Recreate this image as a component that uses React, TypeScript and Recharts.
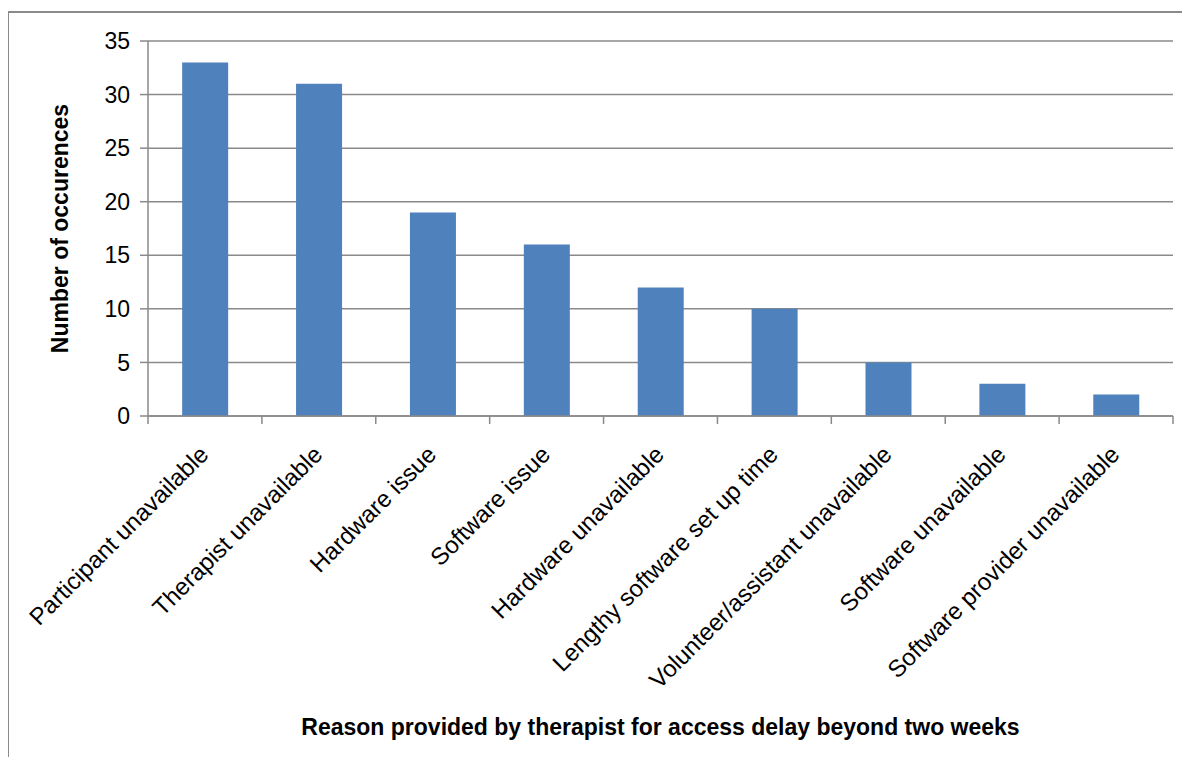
import React from "react";
import {
  BarChart,
  Bar,
  XAxis,
  YAxis,
  CartesianGrid,
  Label,
} from "recharts";

// Reasons reported for access delays beyond two weeks
const reasons: string[] = [
  "Participant unavailable",
  "Therapist unavailable",
  "Hardware issue",
  "Software issue",
  "Hardware unavailable",
  "Lengthy software set up time",
  "Volunteer/assistant unavailable",
  "Software unavailable",
  "Software provider unavailable",
];

// Number of occurrences for each reason
const occurrences: number[] = [33, 31, 19, 16, 12, 10, 5, 3, 2];

// Value axis ticks
const yTicks: number[] = [0, 5, 10, 15, 20, 25, 30, 35];

const data = reasons.map((reason, i) => ({ reason, count: occurrences[i] }));

const FONT = "'Liberation Sans', Arial, sans-serif";
const GRID = "#8a8a8a";
const BAR = "#4F81BD";

// Category label rotated 45° plus tick marks on the band edges
const CategoryTick = (props: any) => {
  const { x, y, payload, index, visibleTicksCount } = props;
  const half = payload && typeof payload.offset === "number" ? payload.offset : 0;
  const ax = x + 5;
  const ay = y + 40;
  const isLast = index === visibleTicksCount - 1;
  return (
    <g>
      <line x1={x - half} x2={x - half} y1={y} y2={y + 8} stroke={GRID} strokeWidth={1.5} />
      {isLast && (
        <line x1={x + half} x2={x + half} y1={y} y2={y + 8} stroke={GRID} strokeWidth={1.5} />
      )}
      <text
        x={ax}
        y={ay}
        transform={`rotate(-45, ${ax}, ${ay})`}
        textAnchor="end"
        fontFamily={FONT}
        fontSize={24}
        fill="#000"
      >
        {payload.value}
      </text>
    </g>
  );
};

export default function App() {
  return (
    <div
      style={{
        position: "relative",
        width: 1182,
        height: 757,
        marginBottom: -8,
        overflow: "hidden",
        background: "#fff",
      }}
    >
      <div
        style={{
          position: "absolute",
          left: -1,
          top: 3,
          right: 0,
          bottom: 0,
          borderLeft: `2px solid ${GRID}`,
          borderTop: `2px solid ${GRID}`,
        }}
      />
      <div style={{ position: "absolute", left: 0, top: 0 }}>
        <BarChart
          width={1182}
          height={757}
          data={data}
          margin={{ top: 33, right: 17, left: 0, bottom: 0 }}
          barCategoryGap="30%"
        >
          <CartesianGrid vertical={false} stroke={GRID} strokeWidth={1.5} />
          <XAxis
            dataKey="reason"
            type="category"
            height={349}
            interval={0}
            axisLine={{ stroke: GRID, strokeWidth: 1.5 }}
            tickLine={false}
            tickSize={0}
            tickMargin={0}
            tick={CategoryTick}
          >
            <Label
              value="Reason provided by therapist for access delay beyond two weeks"
              position="insideBottom"
              offset={30}
              style={{
                fontFamily: FONT,
                fontSize: 23,
                fontWeight: "bold",
                fill: "#000",
              }}
            />
          </XAxis>
          <YAxis
            width={140}
            domain={[0, 35]}
            ticks={yTicks}
            interval={0}
            axisLine={{ stroke: GRID, strokeWidth: 1.5 }}
            tickLine={{ stroke: GRID, strokeWidth: 1.5 }}
            tickSize={8}
            tickMargin={10}
            tick={{ fontFamily: FONT, fontSize: 23, fill: "#000" }}
          >
            <Label
              value="Number of occurences"
              angle={-90}
              position="insideLeft"
              offset={52}
              style={{
                fontFamily: FONT,
                fontSize: 23,
                fontWeight: "bold",
                fill: "#000",
                textAnchor: "middle",
              }}
            />
          </YAxis>
          <Bar dataKey="count" fill={BAR} isAnimationActive={false} />
        </BarChart>
      </div>
    </div>
  );
}
